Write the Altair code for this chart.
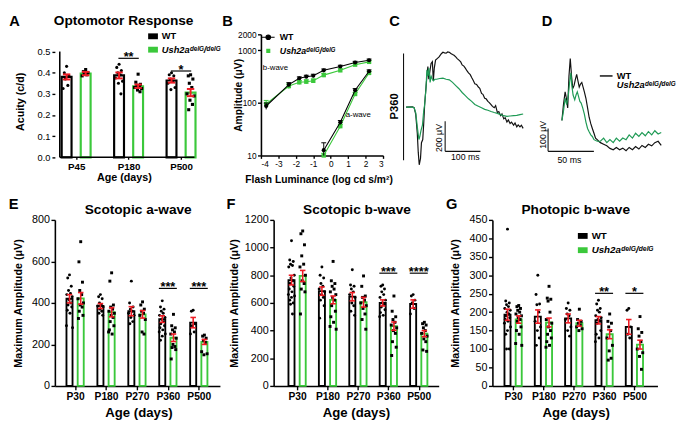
import math
import altair as alt
import pandas as pd

FONT = "Liberation Sans"
BLACK = "#000000"
GREEN = "#3bc83b"
TRACE_GREEN = "#1f9a55"
RED = "#ee1c24"
WT = "WT"
MUT = "Ush2aᵈᵉˡᴳ/ᵈᵉˡᴳ"

# ---------------- A: optomotor response ----------------
A_ages = ["P45", "P180", "P500"]
A_wt_mean = [0.380, 0.387, 0.363]
A_wt_sem = [0.012, 0.014, 0.010]
A_mut_mean = [0.396, 0.336, 0.306]
A_mut_sem = [0.008, 0.008, 0.017]
A_wt_pts = [
    [0.43, 0.40, 0.385, 0.37, 0.34, 0.325],
    [0.44, 0.425, 0.41, 0.40, 0.39, 0.375, 0.36, 0.35, 0.30],
    [0.40, 0.39, 0.385, 0.37, 0.36, 0.35, 0.33, 0.32],
]
A_mut_pts = [
    [0.415, 0.405, 0.40, 0.395, 0.39, 0.385],
    [0.393, 0.355, 0.345, 0.34, 0.335, 0.33, 0.325, 0.318, 0.31],
    [0.39, 0.385, 0.37, 0.35, 0.33, 0.30, 0.29, 0.27, 0.25, 0.225],
]
A_sig_groups = [1, 2]
A_sig_labels = ["**", "*"]
A_sig_levels = [0.468, 0.408]

# ---------------- B: intensity response ----------------
B_lum_b = [-3.7, -2.4, -1.8, -1.4, -1.0, -0.4, 0.55, 1.4, 2.2]
B_wt_b = [87, 222, 293, 314, 327, 414, 489, 584, 643]
B_wt_b_sem = [12, 20, 18, 20, 22, 25, 28, 30, 35]
B_mut_b = [95, 208, 245, 252, 262, 336, 414, 531, 600]
B_mut_b_sem = [16, 22, 20, 22, 22, 28, 30, 32, 35]
B_lum_a = [-0.4, 0.55, 1.4, 2.2]
B_wt_a = [12.6, 42.6, 174, 397]
B_wt_a_sem = [4.8, 3.5, 12, 25]
B_mut_a = [10.0, 36, 147, 370]
B_mut_a_sem = [1.0, 3, 10, 22]
B_ann_text = ["b-wave", "a-wave"]
B_ann_x = [-3.17, 1.58]
B_ann_y = [462, 58]

# ---------------- C: scotopic ERG traces, P360 (ms, uV) ----------------
C_wt_t = [0, 18.2, 22.7, 27.3, 31.8, 34.5, 37.3, 40.9, 43.6, 47.3, 50, 52.7, 55.5, 59.1, 61.8,
          64.5, 68.2, 70.9, 74.5, 77.3, 80, 83.6, 88.2, 93.6, 100, 104.5, 109, 113.6, 118, 122.7,
          127, 131.8, 136, 140.9, 145, 150, 155, 159, 164, 168, 173, 177, 182, 186, 191, 195, 200,
          205, 209, 214, 218, 223, 227, 232, 236, 241, 245, 250, 254, 259, 263, 268, 272, 277, 281,
          286, 290, 295, 299, 305, 309, 314, 318, 323, 327, 332]
C_wt_uv = [0, 2, -4, -46, -173, -299, -383, -341, -236, -215, -109, 17, 101, 206, 269, 185, 248,
           290, 301, 175, 259, 312, 322, 333, 354, 364, 360, 358, 366, 364, 356, 349, 344, 333, 322,
           312, 300, 280, 272, 259, 240, 227, 215, 196, 175, 154, 150, 133, 125, 91, 85, 59, 55, 38,
           30, 17, 5, -4, 10, -36, -30, -57, -45, -78, -70, -99, -85, -109, -100, -120, -105, -131,
           -118, -131, -120, -141]
C_mut_t = [0, 18.2, 22.7, 27.3, 31.8, 36.4, 39.1, 42.7, 46.4, 50, 52.7, 56.4, 59.1, 61.8, 64.5,
           68.2, 70.9, 74.5, 77.3, 81.8, 86.4, 95.5, 104.5, 113.6, 122.7, 131.8, 140.9, 150, 159,
           168, 177, 186, 195, 205, 214, 223, 232, 241, 250, 259, 268, 277, 286, 295, 305, 314, 323, 332]
C_mut_uv = [0, 0, -4, -36, -131, -215, -194, -152, -120, -25, 17, 122, 248, 206, 259, 164, 206,
            185, 175, 185, 185, 190, 192, 185, 181, 164, 143, 122, 97, 76, 55, 38, 17, 6, -4, -15,
            -21, -29, -36, -42, -50, -57, -61, -59, -57, -55, -50, -46]
C_rule_t = [-7.2, 110.8, 110.8]
C_rule_t2 = [-7.2, 110.8, 210.8]
C_rule_uv = [356, -93.6, -293.6]
C_rule_uv2 = [-352.6, -293.6, -293.6]
C_lab_text = ["200 μV", "100 ms"]
C_lab_t = [93.4, 168.1]
C_lab_uv = [-204.8, -328.6]

# ---------------- D: photopic ERG traces (ms, uV) ----------------
D_wt_t = [0, 1.7, 3.5, 4.9, 6.3, 7.7, 9.1, 10.5, 11.9, 13.3, 14.7, 16.1, 17.5, 18.9, 20.3, 21.7,
          23.1, 24.5, 26.2, 28, 29.7, 31.5, 33.2, 35, 36.7, 38.5, 40.2, 42, 45.5, 49, 52.4, 56,
          59.4, 63, 66.4, 70, 73.4, 77, 80.4, 84, 87.4, 91, 94.4, 98, 101.4, 105, 108.4]
D_wt_uv = [135, 204, 260, 232, 190, 329, 406, 329, 274, 288, 315, 336, 308, 281, 294, 301, 281,
           260, 232, 190, 149, 121, 100, 79, 58, 51, 44, 38, 31, 24, 13, 7, 17, 7, 14, 3, 17, 7,
           21, 10, 26, 17, 31, 24, 38, 44, 26]
D_mut_t = [0, 1.7, 3.5, 5.2, 7, 8.4, 9.8, 10.8, 12.2, 14, 15.4, 16.8, 18.2, 19.6, 21, 22.7, 24.5,
           26.2, 28, 29.7, 31.5, 33.2, 35, 38.5, 42, 45.5, 49, 52.4, 56, 59.4, 63, 66.4, 70, 73.4,
           77, 80.4, 84, 87.4, 91, 94.4, 98, 101.4, 105, 108.4]
D_mut_uv = [135, 176, 232, 204, 246, 301, 343, 288, 246, 225, 246, 260, 239, 218, 211, 190, 163,
            128, 100, 86, 72, 65, 51, 44, 44, 58, 38, 51, 38, 58, 44, 58, 51, 72, 58, 79, 65, 82,
            68, 86, 72, 90, 76, 82]
D_rule_t = [-15.1, -15.1]
D_rule_t2 = [-15.1, 34.9]
D_rule_uv = [0, 0]
D_rule_uv2 = [100, 0]
D_lab_text = ["100 μV", "50 ms"]
D_lab_t = [-20.9, 8.2]
D_lab_uv = [72, -36.7]

# ---------------- E, F, G: ERG maxima by age ----------------
EFG_ages = ["P30", "P180", "P270", "P360", "P500"]

E_wt_mean = [420, 385, 360, 322, 305]
E_wt_sem = [20, 12, 22, 16, 25]
E_mut_mean = [422, 355, 345, 232, 212]
E_mut_sem = [28, 22, 18, 18, 12]
E_wt_pts = [
    [535, 520, 480, 460, 445, 440, 430, 415, 400, 390, 380, 365, 350, 290, 280],
    [440, 430, 420, 400, 390, 385, 380, 370, 360, 350, 340],
    [505, 400, 380, 370, 360, 350, 340, 330, 310, 300],
    [410, 380, 370, 360, 350, 340, 330, 320, 310, 300, 290, 280, 270, 260, 250, 240, 220],
    [365, 360, 300, 290, 260, 250],
]
E_mut_pts = [
    [695, 598, 500, 460, 440, 420, 400, 390, 380, 360, 340, 325],
    [545, 505, 390, 380, 370, 360, 350, 340, 330, 310, 290, 270, 250, 260],
    [405, 390, 370, 360, 350, 340, 320, 260, 250],
    [345, 290, 280, 270, 260, 250, 230, 200, 190, 185, 175, 130],
    [245, 240, 230, 220, 210, 165, 155, 150],
]
E_sig_groups = [3, 4]
E_sig_labels = ["***", "***"]
E_sig_levels = [470, 470]

F_wt_mean = [765, 685, 645, 600, 592]
F_wt_sem = [35, 30, 30, 22, 30]
F_mut_mean = [795, 622, 605, 432, 378]
F_mut_sem = [40, 28, 35, 30, 22]
F_wt_pts = [
    [1050, 910, 900, 880, 870, 860, 800, 780, 760, 740, 720, 700, 680, 660, 650, 640, 620, 600, 590, 520],
    [860, 800, 780, 740, 720, 700, 680, 660, 640, 620, 580, 490],
    [840, 730, 720, 700, 680, 660, 640, 600, 580, 540, 510],
    [730, 720, 700, 680, 660, 640, 620, 600, 590, 570, 550, 530, 510, 500],
    [660, 650, 620, 600, 560, 520],
]
F_mut_pts = [
    [1120, 1100, 1020, 940, 880, 860, 800, 760, 740, 700, 680, 520],
    [900, 760, 740, 720, 700, 680, 660, 640, 620, 580, 540, 500, 460, 430, 410],
    [795, 720, 650, 640, 620, 600, 580, 560, 520, 480, 410],
    [650, 540, 500, 480, 460, 440, 420, 400, 380, 320, 280, 220],
    [460, 450, 440, 420, 400, 380, 360, 340, 320, 260, 250],
]
F_sig_groups = [3, 4]
F_sig_labels = ["***", "****"]
F_sig_levels = [815, 815]

G_wt_mean = [193, 188, 183, 178, 160]
G_wt_sem = [15, 18, 12, 10, 20]
G_mut_mean = [180, 172, 170, 140, 112]
G_mut_sem = [10, 12, 8, 12, 12]
G_wt_pts = [
    [425, 230, 225, 220, 215, 210, 205, 200, 195, 190, 185, 180, 175, 170, 160, 150, 140, 100, 100],
    [300, 248, 222, 220, 200, 175, 160, 150, 130, 110],
    [225, 210, 205, 195, 190, 180, 160, 150, 135],
    [232, 222, 210, 205, 200, 190, 185, 180, 175, 170, 150, 140, 130, 120],
    [210, 205, 160, 140, 130],
]
G_mut_pts = [
    [218, 215, 210, 205, 200, 195, 190, 185, 180, 175, 160, 150, 140, 115, 110],
    [270, 238, 235, 230, 200, 180, 170, 160, 150, 140, 130, 120, 110, 105],
    [208, 180, 175, 170, 165, 160, 155, 150],
    [195, 175, 170, 160, 150, 130, 110, 95, 75, 70],
    [188, 155, 145, 135, 120, 100, 90, 80, 45],
]
G_sig_groups = [3, 4]
G_sig_labels = ["**", "*"]
G_sig_levels = [251, 251]

# ---------------- styles ----------------
JIT = [0.0, -0.55, 0.55, -0.3, 0.3, -0.85, 0.85, -0.15, 0.45, -0.45, 0.7, -0.7, 0.15, -0.95, 0.95]
RECT = "M-1,-0.6H1V0.6H-1Z"
LINE_CIRCLE = "M-1,0H1M0.36,0A0.36,0.36,0,1,1,-0.36,0A0.36,0.36,0,1,1,0.36,0Z"
LINE_SQUARE = "M-1,0H1M-0.32,-0.32H0.32V0.32H-0.32Z"


def label(txt, x, y, size, weight="bold"):
    return alt.Chart(pd.DataFrame({"t": [txt]})).mark_text(
        fontSize=size, fontWeight=weight, align="center", baseline="middle", color=BLACK
    ).encode(x=alt.value(x), y=alt.value(y), text="t:N")


def legend_pair(wt_sym, mut_sym, size, stroke_w, fs, c_wt, c_mut, off, wt_col, mut_col):
    r = math.sqrt(size) / 2
    h = max(2 * r, fs)
    wt = alt.Chart(pd.DataFrame({"g": [WT]})).mark_point(filled=True, opacity=0).encode(
        color=alt.Color("g:N", scale=alt.Scale(domain=[WT], range=[wt_col]),
                        legend=alt.Legend(title=None, orient="none", legendX=c_wt[0] - r,
                                          legendY=c_wt[1] - h / 2, symbolType=wt_sym,
                                          symbolSize=size, symbolOpacity=1,
                                          symbolStrokeColor=wt_col, symbolStrokeWidth=stroke_w,
                                          labelFontSize=fs, labelFontWeight="bold",
                                          labelOffset=off, padding=0, labelColor=BLACK)))
    mut = alt.Chart(pd.DataFrame({"g": [MUT]})).mark_point(filled=True, opacity=0, color=mut_col).encode(
        shape=alt.Shape("g:N", scale=alt.Scale(domain=[MUT], range=[mut_sym]),
                        legend=alt.Legend(title=None, orient="none", legendX=c_mut[0] - r,
                                          legendY=c_mut[1] - h / 2, symbolSize=size,
                                          symbolOpacity=1, symbolStrokeColor=mut_col,
                                          symbolFillColor=mut_col, symbolStrokeWidth=stroke_w,
                                          labelFontSize=fs, labelFontWeight="bold",
                                          labelFontStyle="italic", labelOffset=off, padding=0,
                                          labelColor=BLACK)))
    return [wt, mut]


def bar_panel(letter, title, ages, wt_mean, wt_sem, mut_mean, mut_sem, wt_pts, mut_pts,
              sig_groups, sig_labels, sig_levels, L):
    W, H, ppu = L["w"], L["h"], L["ppu"]
    x_lo = -L["g0"] / ppu
    x_hi = (W - L["g0"]) / ppu
    x_end = (L["axis_w"] - L["g0"]) / ppu
    off = L["off"] / ppu
    cap = L["cap"] / 2 / ppu
    xs = alt.Scale(domain=[x_lo, x_hi], nice=False, zero=False)
    ys = alt.Scale(domain=L["ydom"], nice=False, zero=True)
    lab = "[" + ",".join("'%s'" % a for a in ages) + "][datum.value]"
    xaxis = alt.Axis(values=list(range(len(ages))), labelExpr=lab, title="Age (days)",
                     domain=L["xdomain"], tickSize=L["xtick"], labelPadding=L["xlabpad"],
                     labelFontSize=L["xlabfs"], labelFontWeight="bold", labelAngle=0,
                     titleFontSize=L["xtitfs"], titleFontWeight="bold", titleX=L["xtitx"],
                     titleY=L["xtity"], titleBaseline="middle", titleAlign="center")
    yaxis = alt.Axis(values=L["yvals"], format=L["yfmt"], title=L["ytitle"],
                     domain=L["ydomain_line"], tickSize=L["ytick"], labelPadding=L["ylabpad"],
                     labelFontSize=L["ylabfs"], titleFontSize=L["ytitfs"], titleFontWeight="bold",
                     titleAngle=270, titleX=L["ytitx"], titleY=L["ytity"],
                     titleBaseline="middle", titleAlign="center", labelOverlap=False)

    def X(f):
        return alt.X(f, type="quantitative", scale=xs, axis=xaxis)

    def Y(f):
        return alt.Y(f, type="quantitative", scale=ys, axis=yaxis)

    rows, caps, pw, pm = [], [], [], []
    for i in range(len(ages)):
        for g, m, s, sgn, pts, sink in ((WT, wt_mean[i], wt_sem[i], -1, wt_pts[i], pw),
                                        (MUT, mut_mean[i], mut_sem[i], 1, mut_pts[i], pm)):
            xc = i + sgn * off
            rows.append(dict(x=xc, mean=m, lo=m - s, hi=m + s, geno=g))
            caps.append(dict(xl=xc - cap, xr=xc + cap, y=m - s))
            caps.append(dict(xl=xc - cap, xr=xc + cap, y=m + s))
            for j, v in enumerate(pts):
                sink.append(dict(x=xc + JIT[j % len(JIT)] * L["jit"] / ppu, y=v))
    bars = pd.DataFrame(rows)
    sig = pd.DataFrame([dict(xa=g - L["sigw"] / ppu, xb=g + L["sigw"] / ppu, xc=g, y=v, lab=t)
                        for g, t, v in zip(sig_groups, sig_labels, sig_levels)])

    layers = [
        alt.Chart(bars).mark_bar(size=L["bar"], fill="white", strokeWidth=L["bsw"]).encode(
            x=X("x"), y=Y("mean"),
            stroke=alt.Stroke("geno:N", scale=alt.Scale(domain=[WT, MUT], range=[BLACK, GREEN]),
                              legend=None)),
        alt.Chart(pd.DataFrame(pw)).mark_circle(color=BLACK, size=L["dot"], opacity=1).encode(
            x=X("x"), y=Y("y")),
        alt.Chart(pd.DataFrame(pm)).mark_square(color=BLACK, size=L["dot"], opacity=1).encode(
            x=X("x"), y=Y("y")),
        alt.Chart(bars).mark_rule(color=RED, strokeWidth=L["errw"]).encode(
            x=X("x"), y=Y("lo"), y2=alt.Y2("hi")),
        alt.Chart(pd.DataFrame(caps)).mark_rule(color=RED, strokeWidth=L["errw"]).encode(
            x=X("xl"), x2=alt.X2("xr"), y=Y("y")),
        alt.Chart(sig).mark_rule(color=BLACK, strokeWidth=1.2).encode(
            x=X("xa"), x2=alt.X2("xb"), y=Y("y")),
        alt.Chart(sig).mark_text(fontSize=L["star"], fontWeight="bold", baseline="alphabetic",
                                 dy=L["stardy"], color=BLACK).encode(
            x=X("xc"), y=Y("y"), text="lab:N"),
    ]
    if not L["xdomain"]:
        ax = pd.DataFrame({"x0": [x_lo], "x1": [x_end], "y0": [L["ydom"][0]], "y1": [L["ytop"]]})
        layers += [
            alt.Chart(ax).mark_rule(color=BLACK, strokeWidth=1.6).encode(
                x=X("x0"), x2=alt.X2("x1"), y=Y("y0")),
            alt.Chart(ax).mark_rule(color=BLACK, strokeWidth=1.6).encode(
                x=X("x0"), y=Y("y0"), y2=alt.Y2("y1")),
        ]
    if L.get("legend"):
        lg = L["legend"]
        layers += legend_pair(RECT, RECT, lg["size"], 0, lg["fs"], lg["c_wt"], lg["c_mut"],
                              lg["off"], BLACK, GREEN)
    layers += [label(letter, L["lx"], L["ly"], 15),
               label(title, L["tx"], L["ty"], 14)]
    return alt.layer(*layers).properties(width=W, height=H)


# ---------------- panel A ----------------
A = bar_panel("A", "Optomotor Response", A_ages, A_wt_mean, A_wt_sem, A_mut_mean, A_mut_sem,
              A_wt_pts, A_mut_pts, A_sig_groups, A_sig_labels, A_sig_levels,
              dict(w=189.6, h=125.9, axis_w=145.6, g0=17.7, ppu=56.7, off=10.3, bar=10.1, bsw=2.2,
                   ydom=[0, 0.5813], ytop=0.5, yvals=[0, 0.1, 0.2, 0.3, 0.4, 0.5], yfmt=".1f",
                   xdomain=False, ydomain_line=False, xtick=2, xlabpad=2, xlabfs=10, xtitfs=11,
                   xtitx=70.6, xtity=20.5, ytick=3, ylabpad=2, ylabfs=9.5, ytitle="Acuity (c/d)",
                   ytitfs=11, ytitx=-35.1, ytity=68.6, dot=10, jit=4.5, cap=8, errw=2, sigw=11,
                   star=13, stardy=3, lx=-41.3, ly=-13.7, tx=70.4, ty=-13.2,
                   legend=dict(size=100, fs=9.5, c_wt=(100.5, 2.0), c_mut=(100.5, 15.7), off=4)))


# ---------------- panel B ----------------
def b_panel():
    W, H = 125, 124
    xs = alt.Scale(domain=[-4, 3], nice=False, zero=False)
    ys = alt.Scale(type="log", domain=[10, 2000], nice=False)
    xaxis = alt.Axis(values=list(range(-4, 4)), labelExpr="datum.value + ''", tickSize=3,
                     labelPadding=1.5, labelFontSize=8.5, title="Flash Luminance (log cd s/m²)",
                     titleFontSize=10.5, titleFontWeight="bold", titleX=59, titleY=25.1,
                     titleBaseline="middle", titleAlign="center")
    yaxis = alt.Axis(values=[10, 100, 1000, 2000], format="d", tickSize=3.5, labelPadding=1.5,
                     labelFontSize=8.5, title="Amplitude (μV)", titleFontSize=10.5,
                     titleFontWeight="bold", titleAngle=270, titleX=-23.3, titleY=62,
                     titleBaseline="middle", titleAlign="center", labelOverlap=False)

    def X(f):
        return alt.X(f, type="quantitative", scale=xs, axis=xaxis)

    def Y(f):
        return alt.Y(f, type="quantitative", scale=ys, axis=yaxis)

    capw = 2.5 / (W / 7)

    def series(xv, yv, sv, wave):
        return [dict(x=a, y=b, lo=b - s, hi=b + s, xl=a - capw, xr=a + capw, wave=wave)
                for a, b, s in zip(xv, yv, sv)]

    wt = pd.DataFrame(series(B_lum_b, B_wt_b, B_wt_b_sem, "b") + series(B_lum_a, B_wt_a, B_wt_a_sem, "a"))
    mut = pd.DataFrame(series(B_lum_b, B_mut_b, B_mut_b_sem, "b") + series(B_lum_a, B_mut_a, B_mut_a_sem, "a"))
    layers = []
    for df, col, shape, size in ((mut, GREEN, "square", 20), (wt, BLACK, "circle", 18)):
        base = alt.Chart(df)
        layers += [
            base.mark_rule(color=col, strokeWidth=1, clip=True).encode(x=X("x"), y=Y("lo"), y2=alt.Y2("hi")),
            base.mark_rule(color=col, strokeWidth=1, clip=True).encode(x=X("xl"), x2=alt.X2("xr"), y=Y("hi")),
            base.mark_line(color=col, strokeWidth=1.1).encode(x=X("x"), y=Y("y"), detail="wave:N"),
            base.mark_point(filled=True, shape=shape, size=size, color=col, opacity=1).encode(x=X("x"), y=Y("y")),
        ]
    ann = pd.DataFrame({"x": B_ann_x, "y": B_ann_y, "t": B_ann_text})
    layers.append(alt.Chart(ann).mark_text(fontSize=8, color=BLACK).encode(x=X("x"), y=Y("y"), text="t:N"))
    layers += legend_pair(LINE_CIRCLE, LINE_SQUARE, 169, 1.1, 9, (6.5, 2.0), (6.5, 15.9), 4.3, BLACK, GREEN)
    layers.append(label("B", -34.1, -13.7, 15))
    return alt.layer(*layers).properties(width=W, height=H)


B = b_panel()


# ---------------- panels C, D ----------------
def trace_panel(letter, W, H, xdom, ydom, wt_t, wt_uv, mut_t, mut_uv, rt, rt2, ruv, ruv2,
                lab_text, lab_t, lab_uv, yaxis, lx, ly, legend=None):
    xs = alt.Scale(domain=xdom, nice=False, zero=False)
    ys = alt.Scale(domain=ydom, nice=False, zero=False)

    def X(f):
        return alt.X(f, type="quantitative", scale=xs, axis=None)

    def Y(f):
        return alt.Y(f, type="quantitative", scale=ys, axis=yaxis)

    rules = pd.DataFrame({"t": rt, "t2": rt2, "uv": ruv, "uv2": ruv2})
    wt = pd.DataFrame({"t": wt_t, "uv": wt_uv})
    mut = pd.DataFrame({"t": mut_t, "uv": mut_uv})
    layers = [
        alt.Chart(rules).mark_rule(color="#111111", strokeWidth=1.1).encode(
            x=X("t"), x2=alt.X2("t2"), y=Y("uv"), y2=alt.Y2("uv2")),
        alt.Chart(wt).mark_line(color="#111111", strokeWidth=1.2).encode(x=X("t"), y=Y("uv")),
        alt.Chart(mut).mark_line(color=TRACE_GREEN, strokeWidth=1.2).encode(x=X("t"), y=Y("uv")),
        alt.Chart(pd.DataFrame({"t": lab_t[:1], "uv": lab_uv[:1], "s": lab_text[:1]})).mark_text(
            fontSize=9, angle=270, align="center", baseline="middle", color=BLACK).encode(
            x=X("t"), y=Y("uv"), text="s:N"),
        alt.Chart(pd.DataFrame({"t": lab_t[1:], "uv": lab_uv[1:], "s": lab_text[1:]})).mark_text(
            fontSize=9, align="center", baseline="middle", color=BLACK).encode(
            x=X("t"), y=Y("uv"), text="s:N"),
    ]
    if legend:
        layers += legend_pair("stroke", "stroke", 169, 1.5, 9.5, legend[0], legend[1], 3.4,
                              "#111111", TRACE_GREEN)
    layers.append(label(letter, lx, ly, 15))
    return alt.layer(*layers).properties(width=W, height=H)


C_yaxis = alt.Axis(domain=False, ticks=False, labels=False, grid=False, title="P360",
                   titleFontSize=11.5, titleFontWeight="bold", titleAngle=270, titleX=-9,
                   titleY=73.2, titleBaseline="middle", titleAlign="center")
C = trace_panel("C", 126.5, 135, [-7.2, 343.2], [-392.1, 482.8], C_wt_t, C_wt_uv, C_mut_t, C_mut_uv,
                C_rule_t, C_rule_t2, C_rule_uv, C_rule_uv2, C_lab_text, C_lab_t, C_lab_uv,
                C_yaxis, -9.2, -13.7)
D = trace_panel("D", 116.7, 135, [-15.1, 109.3], [-64.9, 511.3], D_wt_t, D_wt_uv, D_mut_t, D_mut_uv,
                D_rule_t, D_rule_t2, D_rule_uv, D_rule_uv2, D_lab_text, D_lab_t, D_lab_uv,
                None, -1.0, -13.7, legend=((58.5, 41.6), (58.5, 51.0)))

# ---------------- panels E, F, G ----------------
EFG_common = dict(w=169, h=170, axis_w=169, off=6.1, bar=6.2, bsw=1.9, xdomain=True,
                  ydomain_line=True, xtick=4, xlabpad=2, xlabfs=10.5, xtitfs=13.5, xtity=27,
                  ytick=4, ylabpad=1.5, ylabfs=11, ytitle="Maximum Amplitude (μV)", ytitfs=11,
                  ytity=85, dot=9, jit=3.5, cap=6, errw=1.6, sigw=9.8, star=13, stardy=3,
                  ly=-16.6, ty=-9.8, tx=85.3, yfmt="d")
E = bar_panel("E", "Scotopic a-wave", EFG_ages, E_wt_mean, E_wt_sem, E_mut_mean, E_mut_sem,
              E_wt_pts, E_mut_pts, E_sig_groups, E_sig_labels, E_sig_levels,
              dict(EFG_common, g0=16.7, ppu=33.65, ydom=[0, 800], ytop=800,
                   yvals=[0, 200, 400, 600, 800], xtitx=85.6, ytitx=-37.4, lx=-42.3))
F = bar_panel("F", "Scotopic b-wave", EFG_ages, F_wt_mean, F_wt_sem, F_mut_mean, F_mut_sem,
              F_wt_pts, F_mut_pts, F_sig_groups, F_sig_labels, F_sig_levels,
              dict(EFG_common, g0=20.2, ppu=33.1, ydom=[0, 1200], ytop=1200,
                   yvals=[0, 200, 400, 600, 800, 1000, 1200], xtitx=84.3, ytitx=-39.7, lx=-43.8))
G = bar_panel("G", "Photopic b-wave", EFG_ages, G_wt_mean, G_wt_sem, G_mut_mean, G_mut_sem,
              G_wt_pts, G_mut_pts, G_sig_groups, G_sig_labels, G_sig_levels,
              dict(EFG_common, g0=17.2, ppu=33.0, ydom=[0, 450], ytop=450,
                   yvals=[0, 50, 100, 150, 200, 250, 300, 350, 400, 450], xtitx=85.3,
                   ytitx=-37.3, lx=-41.8,
                   legend=dict(size=100, fs=10, c_wt=(92.5, 16.4), c_mut=(92.5, 31.0), off=4.1)))

RES = dict(color="independent", shape="independent", stroke="independent")
top = alt.hconcat(A, B, C, D, spacing=21, bounds="flush").resolve_scale(**RES).resolve_legend(
    color="independent", shape="independent")
bottom = alt.hconcat(E, F, G, spacing=55, bounds="flush").resolve_scale(**RES).resolve_legend(
    color="independent", shape="independent")
chart = alt.vconcat(top, bottom, spacing=9).resolve_scale(**RES).resolve_legend(
    color="independent", shape="independent").properties(padding=0)

chart = chart.configure(font=FONT).configure_view(stroke="transparent").configure_axis(
    grid=False, domainColor=BLACK, tickColor=BLACK, labelColor=BLACK, titleColor=BLACK,
    domainWidth=1.6, tickWidth=1.4, labelFont=FONT, titleFont=FONT
).configure_legend(labelFont=FONT)

chart.save("out.html", embed_options={"renderer": "svg", "actions": False})
